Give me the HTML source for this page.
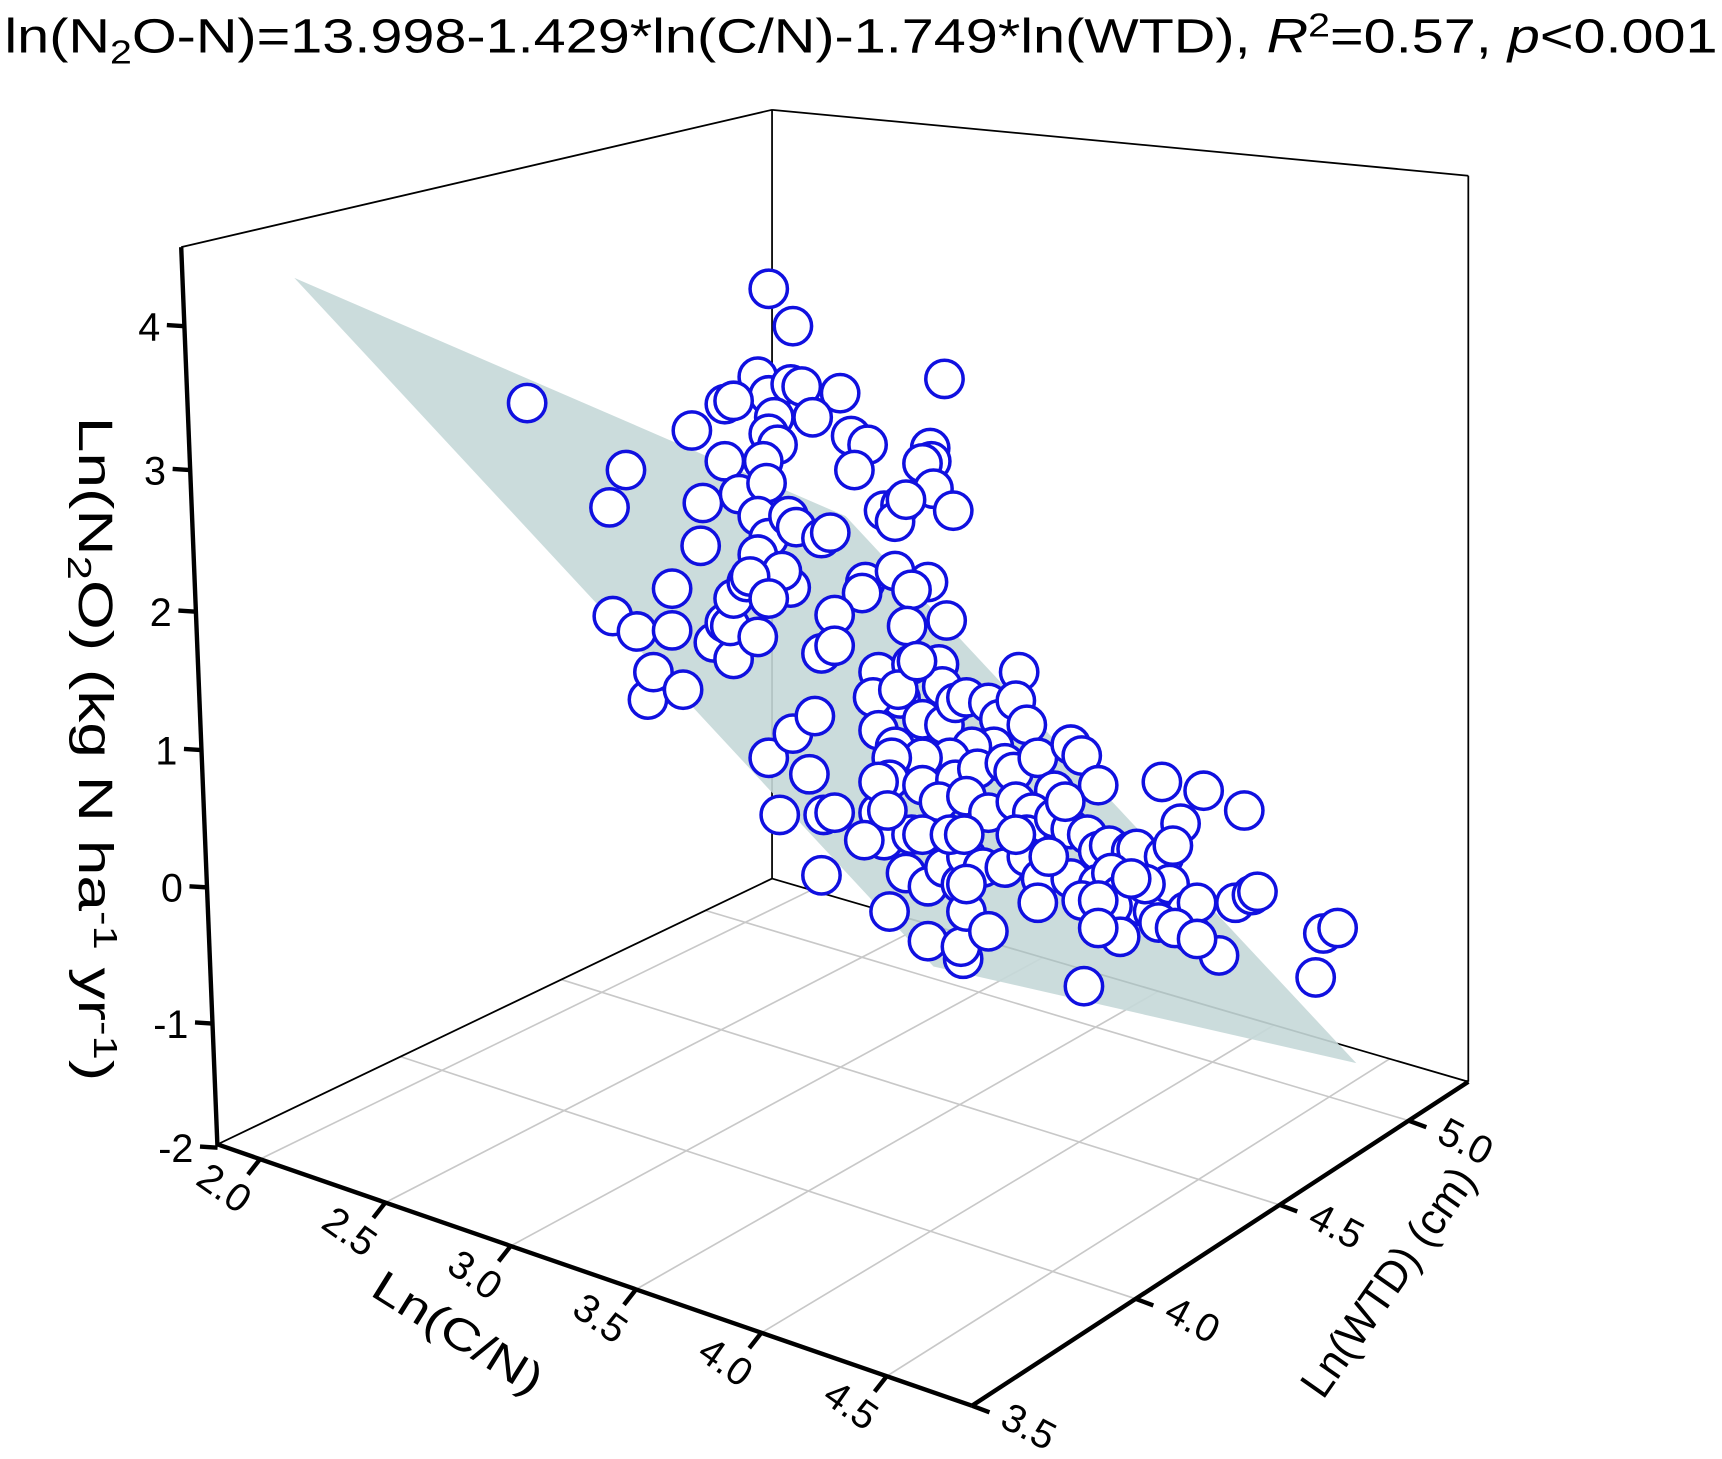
<!DOCTYPE html>
<html><head><meta charset="utf-8"><style>html,body{margin:0;padding:0;background:#fff}svg{display:block}</style></head><body>
<svg width="1722" height="1459" viewBox="0 0 1568 1328.5" preserveAspectRatio="none" xmlns="http://www.w3.org/2000/svg" font-family="Liberation Sans, sans-serif">
<rect width="1568" height="1329" fill="#fff"/>
<text x="4" y="48" font-size="44" textLength="1560" lengthAdjust="spacingAndGlyphs">ln(N<tspan font-size="30" baseline-shift="-10">2</tspan>O-N)=13.998-1.429*ln(C/N)-1.749*ln(WTD), <tspan font-style="italic">R</tspan><tspan font-size="30" baseline-shift="15">2</tspan>=0.57, <tspan font-style="italic">p</tspan>&lt;0.001</text>
<g id="grid" stroke="#c8c8c8" stroke-width="1.5" fill="none"></g>
<g stroke="#000" stroke-width="1.6" fill="none">
<line x1="703" y1="100" x2="703" y2="800"/>
<line x1="703" y1="100" x2="165" y2="225"/>
<line x1="703" y1="100" x2="1337" y2="160"/>
<line x1="1337" y1="160" x2="1337" y2="985"/>
<line x1="703" y1="800" x2="198" y2="1042"/>
<line x1="703" y1="800" x2="1337" y2="985"/>
</g>
<polygon points="268,253 770,470 1235,968 850,880" fill="#c5d8d8" opacity="0.9"/>
<g id="pts" fill="#fff" stroke="#1010e0" stroke-width="3.2"></g>
<g stroke="#000" stroke-width="4" fill="none">
<line x1="165" y1="225" x2="198" y2="1044"/>
<line x1="198" y1="1042" x2="885" y2="1280"/>
<line x1="885" y1="1280" x2="1337" y2="985"/>
</g>
<g id="ticks" stroke="#000" stroke-width="4"></g>
<g id="labels" font-size="36" fill="#000"></g>
<text transform="translate(410,1225) rotate(32)" font-size="40" text-anchor="middle" textLength="175" lengthAdjust="spacingAndGlyphs">Ln(C/N)</text>
<text transform="translate(1275,1175) rotate(-55)" font-size="40" text-anchor="middle" textLength="245" lengthAdjust="spacingAndGlyphs">Ln(WTD) (cm)</text>
<text transform="translate(72,682) rotate(90)" font-size="44" text-anchor="middle" textLength="605" lengthAdjust="spacingAndGlyphs">Ln(N<tspan font-size="30" baseline-shift="-10">2</tspan>O) (kg N ha<tspan font-size="30" baseline-shift="14">-1</tspan> yr<tspan font-size="30" baseline-shift="14">-1</tspan>)</text>
<script>
var NS="http://www.w3.org/2000/svg";
function el(p,t,a,txt){var e=document.createElementNS(NS,t);for(var k in a)e.setAttribute(k,a[k]);if(txt!==undefined)e.textContent=txt;document.getElementById(p).appendChild(e);}
var A=[198,1042],F=[885,1280],R=[1337,985],B=[703,800];
function L(p,q,t){return [p[0]+t*(q[0]-p[0]),p[1]+t*(q[1]-p[1])];}
var cn=[2.0,2.5,3.0,3.5,4.0,4.5];
cn.forEach(function(c){var t=(c-1.83)/(4.84-1.83);var p=L(A,F,t),q=L(B,R,t);
el("grid","line",{x1:p[0],y1:p[1],x2:q[0],y2:q[1]});
el("ticks","line",{x1:p[0],y1:p[1],x2:p[0]-11,y2:p[1]+14});
el("labels","text",{transform:"translate("+(p[0]-60)+","+(p[1]+22)+") rotate(35)"},c.toFixed(1));});
var wv=[[3.5,0],[4.0,0.33],[4.5,0.62],[5.0,0.88]];
wv.forEach(function(w){var s=w[1];var p=L(F,R,s),q=L(A,B,s);
if(s>0)el("grid","line",{x1:p[0],y1:p[1],x2:q[0],y2:q[1]});
el("ticks","line",{x1:p[0],y1:p[1],x2:p[0]+16,y2:p[1]+6});
el("labels","text",{transform:"translate("+(p[0]+24)+","+(p[1]+18)+") rotate(28)"},w[0].toFixed(1));});
var zt=[[4,297],[3,428],[2,557],[1,683],[0,808],[-1,932],[-2,1045]];
zt.forEach(function(z){var x=165+(z[1]-225)*33/817;
el("ticks","line",{x1:x,y1:z[1],x2:x-16,y2:z[1]-1});
el("labels","text",{x:x-22,y:z[1]+13,"text-anchor":"end"},String(z[0]));});
var P=[[480,367],[570,428],[555,462],[558,561],[580,575],[590,637],[595,612],[622,628],[612,574],[612,536],[630,392],[640,458],[638,497],[650,585],[660,567],[668,600],[665,570],[690,580],[668,545],[680,530],[700,263],[722,297],[690,343],[700,360],[720,350],[735,370],[730,352],[765,358],[740,380],[705,380],[700,395],[708,405],[660,368],[668,365],[660,420],[673,450],[695,420],[698,440],[690,470],[700,490],[690,505],[718,470],[725,480],[748,490],[756,485],[720,535],[712,520],[683,525],[700,545],[775,397],[790,405],[778,428],[805,465],[820,460],[815,475],[860,345],[847,408],[848,420],[840,422],[850,445],[868,465],[825,455],[788,530],[785,540],[815,520],[845,530],[830,537],[862,565],[826,570],[760,560],[748,595],[760,588],[800,612],[830,605],[855,605],[858,625],[820,636],[795,635],[800,665],[815,680],[840,655],[860,660],[870,640],[880,635],[900,640],[910,655],[928,612],[925,638],[935,660],[905,680],[885,680],[865,690],[840,690],[812,690],[810,710],[840,715],[870,710],[890,700],[915,695],[923,703],[945,690],[960,720],[975,678],[985,688],[1000,715],[700,690],[737,705],[722,668],[742,652],[710,742],[750,742],[760,740],[748,797],[800,740],[805,765],[830,760],[855,730],[880,725],[900,740],[925,730],[940,740],[935,760],[960,745],[975,755],[990,760],[1000,775],[1010,770],[1030,775],[1035,773],[1060,780],[1075,750],[1058,712],[1096,720],[1133,738],[825,795],[845,807],[860,790],[875,805],[880,780],[895,790],[915,790],[935,780],[948,800],[945,822],[975,800],[1000,805],[1012,795],[1020,815],[1040,825],[1050,830],[1060,810],[1070,840],[1065,805],[1085,850],[1080,830],[1090,822],[1110,870],[1125,822],[1140,815],[1145,812],[1205,850],[1218,845],[1198,890],[987,898],[1013,825],[1020,853],[845,857],[877,873],[875,862],[880,830],[900,848],[810,830],[840,760],[865,760],[878,760],[880,805],[818,628],[835,602],[800,712],[808,738],[787,765],[1043,805],[1068,770],[925,760],[970,730],[955,780],[985,820],[1030,800],[1055,840],[1070,845],[1090,855],[1000,820],[1000,845]];
P.forEach(function(p){el("pts","circle",{cx:p[0],cy:p[1],r:17});});
</script>
</svg>
</body></html>
